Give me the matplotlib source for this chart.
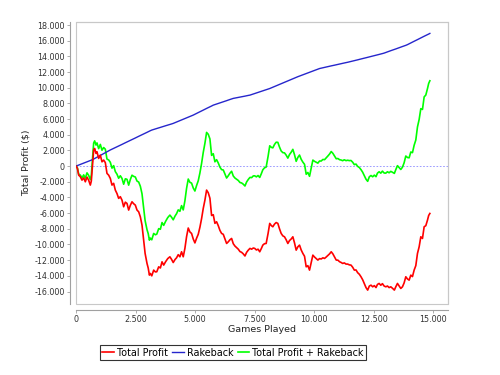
import matplotlib
matplotlib.use("Agg")
import matplotlib.pyplot as plt
from matplotlib.patches import Rectangle
from matplotlib.ticker import FuncFormatter

# games played (x) for each reading
games = [
    0, 60, 112, 182, 252, 322, 391, 461, 531, 601, 643, 699, 741, 783, 839, 881,
    951, 1021, 1091, 1161, 1230, 1300, 1370, 1440, 1510, 1580, 1650, 1720, 1790,
    1860, 1930, 2000, 2070, 2140, 2210, 2280, 2350, 2420, 2490, 2560, 2630, 2700,
    2770, 2840, 2900, 2980, 3030, 3080, 3120, 3180, 3260, 3330, 3390, 3470, 3540,
    3610, 3680, 3760, 3850, 3940, 4010, 4080, 4160, 4220, 4290, 4360, 4430, 4500,
    4570, 4640, 4710, 4780, 4850, 4920, 4990, 5060, 5130, 5200, 5270, 5340, 5410,
    5480, 5550, 5620, 5690, 5760, 5830, 5900, 5970, 6040, 6110, 6180, 6250, 6320,
    6390, 6460, 6530, 6600, 6670, 6740, 6810, 6880, 6950, 7020, 7090, 7160, 7230,
    7300, 7370, 7440, 7500, 7570, 7640, 7710, 7780, 7840, 7910, 7980, 8060, 8130,
    8200, 8260, 8330, 8400, 8470, 8540, 8610, 8680, 8750, 8820, 8890, 8960, 9030,
    9100, 9170, 9240, 9310, 9380, 9450, 9520, 9590, 9660, 9730, 9800, 9870, 9940,
    10010, 10080, 10150, 10220, 10290, 10360, 10430, 10500, 10570, 10640, 10710,
    10780, 10850, 10920, 10990, 11060, 11130, 11190, 11260, 11330, 11400, 11470,
    11540, 11610, 11680, 11750, 11820, 11890, 11960, 12030, 12100, 12170, 12240,
    12310, 12380, 12450, 12520, 12590, 12650, 12720, 12790, 12860, 12930, 13000,
    13070, 13140, 13210, 13290, 13360, 13420, 13490, 13560, 13630, 13700, 13770,
    13840, 13910, 13980, 14050, 14120, 14190, 14260, 14330, 14400, 14470, 14540,
    14610, 14680, 14750, 14800, 14850,
]

total_profit = [
    0, -300, -1150, -1360, -1790, -1500, -2000, -1400, -1800, -2420, -1900, 340,
    2040, 2250, 1620, 1830, 980, 1400, 550, 770, 450, -930, -1150, -1570, -2420,
    -2200, -3060, -3500, -4120, -3900, -4340, -5190, -4600, -4760, -5610, -5000,
    -4550, -4800, -4980, -5610, -5830, -6470, -7530, -9440, -11140, -12420,
    -13000, -13910, -13700, -14000, -13270, -13500, -13480, -12850, -13000,
    -12210, -12630, -12200, -11800, -11570, -11900, -12300, -11900, -11700,
    -11300, -11570, -10930, -11570, -10500, -9000, -7900, -8400, -8590, -9300,
    -9800, -9200, -8700, -7800, -6700, -5400, -4340, -3060, -3400, -4100, -6300,
    -6200, -7300, -7100, -7600, -8200, -8590, -8700, -9300, -9870, -9660, -9400,
    -9230, -9900, -10200, -10400, -10600, -10900, -11000, -11200, -11470, -11000,
    -10720, -10500, -10600, -10450, -10500, -10700, -10600, -10930, -10500,
    -10080, -9900, -9870, -8600, -7310, -7600, -7740, -7400, -7200, -7310, -8000,
    -8590, -8900, -9020, -9400, -9870, -9500, -9300, -9020, -9800, -10720,
    -10300, -10080, -10700, -11140, -11500, -12850, -12700, -13270, -12300,
    -11360, -11600, -11800, -11990, -11800, -11850, -11700, -11780, -11600,
    -11400, -11200, -10930, -11200, -11600, -11990, -12000, -12200, -12300,
    -12420, -12350, -12500, -12500, -12600, -12630, -12900, -13270, -13250,
    -13600, -13800, -14120, -14500, -15000, -15500, -15820, -15300, -15190,
    -15400, -15250, -15500, -15100, -14970, -15200, -15000, -15300, -15400,
    -15300, -15500, -15400, -15610, -15820, -15400, -14970, -15300, -15610,
    -15400, -14900, -14120, -14400, -14550, -13910, -14100, -13270, -12700,
    -11140, -10300, -9020, -9230, -7740, -7600, -6890, -6300, -6040,
]

rakeback = [
    0, 70, 130, 210, 290, 380, 460, 540, 620, 700, 750, 830, 900, 970, 1070, 1130,
    1250, 1370, 1480, 1600, 1710, 1830, 1940, 2060, 2160, 2260, 2360, 2470, 2570,
    2670, 2770, 2880, 2980, 3080, 3180, 3290, 3390, 3490, 3590, 3700, 3800, 3900,
    4000, 4110, 4190, 4310, 4390, 4460, 4520, 4600, 4680, 4740, 4800, 4870, 4940,
    5010, 5070, 5150, 5230, 5320, 5380, 5450, 5550, 5630, 5720, 5800, 5890, 5980,
    6070, 6160, 6250, 6330, 6420, 6510, 6620, 6720, 6830, 6930, 7040, 7150, 7250,
    7360, 7460, 7570, 7670, 7780, 7850, 7920, 8000, 8070, 8140, 8210, 8280, 8350,
    8430, 8500, 8570, 8640, 8680, 8720, 8770, 8810, 8850, 8890, 8930, 8980, 9020,
    9060, 9130, 9200, 9260, 9330, 9400, 9480, 9550, 9610, 9680, 9750, 9830, 9900,
    9990, 10070, 10160, 10250, 10340, 10430, 10520, 10620, 10710, 10800, 10890,
    10980, 11070, 11160, 11250, 11330, 11410, 11490, 11570, 11650, 11730, 11810,
    11890, 11970, 12050, 12130, 12210, 12290, 12370, 12450, 12500, 12550, 12600,
    12650, 12690, 12740, 12790, 12830, 12880, 12930, 12970, 13020, 13070, 13110,
    13160, 13200, 13250, 13300, 13350, 13400, 13460, 13510, 13560, 13620, 13670,
    13720, 13780, 13830, 13880, 13940, 13990, 14040, 14100, 14150, 14200, 14250,
    14300, 14360, 14420, 14500, 14580, 14650, 14730, 14810, 14890, 14950, 15030,
    15110, 15180, 15260, 15330, 15410, 15500, 15610, 15710, 15820, 15930, 16030,
    16140, 16250, 16350, 16460, 16570, 16670, 16780, 16850, 16930,
]

profit_plus_rb = [p + r for p, r in zip(total_profit, rakeback)]

x_ticks = [0, 2500, 5000, 7500, 10000, 12500, 15000]
y_ticks = list(range(-16000, 18001, 2000))


def dotted(v, pos):
    return f"{int(round(v)):,}".replace(",", ".")


fig = plt.figure(figsize=(5, 3.75), dpi=100)
ax = fig.add_axes([0.152, 0.189, 0.743, 0.753])

ax.axhline(0, color="#8c8cff", lw=0.6, dashes=(2, 2), zorder=1)
ax.plot(games, total_profit, color="#ff0000", lw=1.2, zorder=5, label="Total Profit")
ax.plot(games, rakeback, color="#2626cc", lw=1.0, zorder=4, label="Rakeback")
ax.plot(games, profit_plus_rb, color="#00ff00", lw=1.2, zorder=3,
        label="Total Profit + Rakeback")

ax.set_xlim(0, 15590)
ax.set_ylim(-17610, 18420)
ax.set_xticks(x_ticks)
ax.set_yticks(y_ticks)
ax.xaxis.set_major_formatter(FuncFormatter(dotted))
ax.yaxis.set_major_formatter(FuncFormatter(dotted))

for side in ["left", "bottom"]:
    ax.spines[side].set_position(("outward", 4))
    ax.spines[side].set_color("#a0a0a0")
    ax.spines[side].set_linewidth(0.8)
for side in ["top", "right"]:
    ax.spines[side].set_color("#c8c8c8")
    ax.spines[side].set_linewidth(0.8)
ax.add_patch(Rectangle((0, 0), 1, 1, transform=ax.transAxes, fill=False,
                       ec="#c8c8c8", lw=0.8, clip_on=False, zorder=0))

ax.tick_params(length=2, width=0.6, color="#a0a0a0", labelsize=5.8,
               labelcolor="#333333", pad=2)

fig.text(0.524, 0.12, "Games Played", ha="center", va="center",
         fontsize=6.8, color="#222222")
fig.text(0.052, 0.565, "Total Profit ($)", ha="center", va="center",
         rotation=90, fontsize=6.8, color="#222222")

leg = fig.legend(loc="center", bbox_to_anchor=(0.466, 0.06), ncol=3,
                 frameon=True, fancybox=False, edgecolor="black", fontsize=6.9,
                 handlelength=1.2, handletextpad=0.3, columnspacing=0.5,
                 borderpad=0.25)
leg.get_frame().set_linewidth(0.8)

fig.savefig("out.png", dpi=100)
